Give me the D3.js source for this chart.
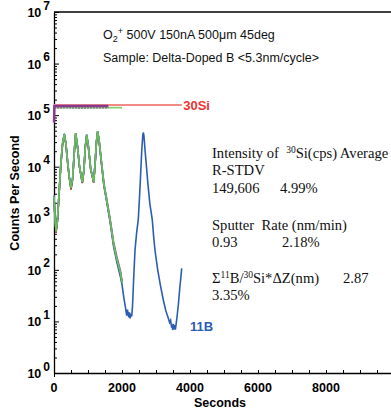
<!DOCTYPE html>
<html>
<head>
<meta charset="utf-8">
<script src="https://cdn.jsdelivr.net/npm/d3@7"></script>
<style>
  body { margin: 0; background: #fff; }
  svg { display: block; font-family: "Liberation Sans", Arial, sans-serif; }
  .note { font-family: "Liberation Serif", "Times New Roman", serif; font-size: 14.6px; fill: #111; }
</style>
</head>
<body>
<div id="chart"></div>
<script>
// depth profile, log counts vs sputter time
const xTicks = [0, 2000, 4000, 6000, 8000];
const yExps = [0, 1, 2, 3, 4, 5, 6, 7];

// 30Si reference channels (seconds, cps)
const si30Salmon = [[0, 1.58e5], [3760, 1.58e5]];
const si30Green = [[0, 1.40e5], [2000, 1.40e5]];
const si30Gray = [[0, 1.38e5], [400, 1.40e5], [800, 1.37e5], [1200, 1.39e5], [1600, 1.38e5]];
const si30Purple = [[0, 7.2e4], [10, 1.50e5], [1600, 1.50e5]];

// 11B cycles - shared time base for the overlaid runs
const bTime = [0, 30, 60, 100, 150, 200, 250, 303, 350, 400, 450, 500, 550, 600, 638, 690, 750, 832,
  880, 920, 962, 1010, 1080, 1168, 1210, 1250, 1285, 1330, 1400, 1470, 1550, 1650, 1750, 1850, 1950, 2000];
const bMagenta = [2800, 1000, 560, 900, 3100, 11000, 27000, 42000, 28000, 12500, 6200, 3800, 6000, 21000,
  44000, 25000, 10000, 4900, 8500, 24000, 41000, 25000, 9000, 5000, 12000, 31000, 48000, 31000, 11500,
  4700, 2400, 1000, 360, 180, 100, 62];
const bMaroon = [2500, 950, 520, 850, 2900, 10500, 26000, 41000, 27000, 12000, 6000, 3600, 5800, 20000,
  43000, 24500, 9800, 4800, 8200, 23500, 40000, 24500, 8800, 4900, 11500, 30000, 47000, 30000, 11000,
  4300, 2200, 900, 320, 160, 90, 58];
const bTeal = [2700, 1000, 570, 920, 3200, 11500, 28000, 43000, 28500, 12800, 6300, 3900, 6200, 21500,
  45000, 25500, 10200, 5000, 8700, 24500, 42000, 25500, 9200, 5100, 12300, 31500, 49000, 31500, 11700,
  4600, 2300, 930, 330, 165, 92, 58];
const bGreen = [2600, 980, 550, 900, 3100, 11200, 27500, 42500, 28000, 12500, 6200, 3850, 6100, 21000,
  44500, 25000, 10000, 5000, 8600, 24000, 41500, 25000, 9000, 5000, 12100, 31000, 48500, 31000, 11400,
  4400, 2250, 920, 325, 160, 90, 57];

// blue run goes on for two more cycles
const bBlue = [[0, 2600], [30, 1000], [60, 560], [100, 900], [150, 3100], [200, 11000], [250, 27500],
  [303, 44000], [350, 28000], [400, 12500], [450, 6200], [500, 3900], [550, 6100], [600, 21500],
  [638, 45000], [690, 25000], [750, 10000], [832, 5000], [880, 8600], [920, 24500], [962, 42000],
  [1010, 25000], [1080, 9000], [1168, 5000], [1210, 12000], [1250, 31500], [1285, 49000], [1330, 30500],
  [1400, 11000], [1470, 4200], [1550, 2100], [1650, 850], [1750, 290], [1850, 140], [1950, 75],
  [2000, 52], [2050, 30], [2100, 19], [2138, 13], [2160, 17], [2180, 14], [2200, 12], [2220, 15],
  [2240, 11.5], [2260, 14], [2285, 12.5], [2310, 20], [2340, 60], [2382, 240], [2430, 520], [2479, 950],
  [2530, 4000], [2580, 20000], [2610, 40000], [2626, 46000], [2645, 40000], [2680, 20000], [2720, 10000],
  [2760, 4800], [2820, 1900], [2891, 930], [2930, 450], [2970, 240], [3050, 100], [3130, 50],
  [3215, 26], [3290, 16], [3362, 11.5], [3400, 9.5], [3430, 10.5], [3460, 7.6], [3480, 8.8],
  [3491, 6.8], [3510, 9], [3530, 7], [3550, 8.5], [3570, 6.9], [3588, 8.5], [3620, 12.5], [3660, 22],
  [3700, 45], [3730, 70], [3756, 107]];

const W = 391, H = 415;
const margin = { top: 12, left: 54, bottom: 42 };

const svg = d3.select('#chart').append('svg').attr('width', W).attr('height', H);

const x = d3.scaleLinear().domain([0, 10000]).range([margin.left, 394]);
const y = d3.scaleLog().domain([1, 1e7]).range([H - margin.bottom, margin.top]);

// frame: top line + axes
svg.append('line').attr('x1', margin.left).attr('x2', W).attr('y1', y(1e7)).attr('y2', y(1e7))
  .attr('stroke', '#000').attr('stroke-width', 1.3);

const minorX = d3.range(0, 10001, 500);
const gx = svg.append('g').attr('transform', `translate(0,${y(1)})`)
  .call(d3.axisBottom(x).tickValues(minorX).tickSizeInner(-3).tickSizeOuter(0).tickFormat(''));
gx.select('.domain').attr('stroke-width', 1.3);
gx.selectAll('.tick line').attr('stroke-width', 1);
gx.selectAll('.tick').filter(d => d === 0).select('line').attr('y1', 4).attr('y2', -3);

svg.append('g').selectAll('text').data(xTicks).join('text')
  .attr('x', d => x(d)).attr('y', y(1) + 19)
  .attr('text-anchor', 'middle').attr('font-size', 12.5).attr('font-weight', 'bold')
  .text(d => d);

const yMinor = [];
yExps.slice(0, -1).forEach(e => { for (let k = 1; k < 10; k++) yMinor.push(k * Math.pow(10, e)); });
yMinor.push(1e7);
const gy = svg.append('g').attr('transform', `translate(${margin.left},0)`)
  .call(d3.axisLeft(y).tickValues(yMinor).tickSizeInner(-3).tickSizeOuter(0).tickFormat(''));
gy.select('.domain').attr('stroke-width', 1.3);
gy.selectAll('.tick line').attr('stroke-width', 1)
  .filter(d => Math.abs(Math.log10(d) % 1) < 1e-9).attr('x2', 5);

const yl = svg.append('g').selectAll('text').data(yExps).join('text')
  .attr('x', 50).attr('y', e => y(Math.pow(10, e)) + 5)
  .attr('text-anchor', 'end').attr('font-size', 12.5).attr('font-weight', 'bold');
yl.append('tspan').text('10');
yl.append('tspan').attr('dx', 2).attr('dy', -7.5).attr('font-size', 12).text(e => e);

svg.append('text').attr('transform', `translate(19,193) rotate(-90)`)
  .attr('text-anchor', 'middle').attr('font-size', 12.5).attr('font-weight', 'bold')
  .text('Counts Per Second');
svg.append('text').attr('x', 220).attr('y', 407)
  .attr('text-anchor', 'middle').attr('font-size', 12.5).attr('font-weight', 'bold')
  .text('Seconds');

// data lines
const line = d3.line().x(d => x(d[0])).y(d => y(d[1]));
const plot = svg.append('g');

plot.append('path').attr('d', line(si30Salmon)).attr('fill', 'none').attr('stroke', '#f48a88').attr('stroke-width', 2);
plot.append('path').attr('d', line(si30Green)).attr('fill', 'none').attr('stroke', '#86d070').attr('stroke-width', 1.8);
plot.append('path').attr('d', line(si30Gray)).attr('fill', 'none').attr('stroke', '#8a8a8a').attr('stroke-width', 1.8)
  .attr('stroke-dasharray', '2,1');
plot.append('path').attr('d', line(si30Purple)).attr('fill', 'none').attr('stroke', '#8a3a8e').attr('stroke-width', 2.4);

plot.append('path').attr('d', line(bBlue)).attr('fill', 'none').attr('stroke', '#2c5cb4').attr('stroke-width', 1.6);
const runs = [
  { v: bMagenta, c: '#c060c8' },
  { v: bMaroon, c: '#8c2a3a' },
  { v: bTeal, c: '#3aa8a8' },
  { v: bGreen, c: '#6cbc58' },
];
runs.forEach(r => {
  plot.append('path').attr('d', line(bTime.map((t, i) => [t, r.v[i]])))
    .attr('fill', 'none').attr('stroke', r.c).attr('stroke-width', 1.6);
});

// series labels
svg.append('text').attr('x', x(3800)).attr('y', y(1.58e5) + 5)
  .attr('font-size', 13).attr('font-weight', 'bold').attr('fill', '#ee3333').text('30Si');
svg.append('text').attr('x', x(4000)).attr('y', y(8) + 5)
  .attr('font-size', 13).attr('font-weight', 'bold').attr('fill', '#2c5cb4').text('11B');

// header
const h1 = svg.append('text').attr('x', 103).attr('y', 39).attr('font-size', 12.5).attr('fill', '#111');
h1.append('tspan').text('O');
h1.append('tspan').attr('dy', 3).attr('font-size', 9).text('2');
h1.append('tspan').attr('dy', -8).attr('font-size', 9).text('+');
h1.append('tspan').attr('dy', 5).text(' 500V 150nA 500\u03bcm 45deg');
svg.append('text').attr('x', 103).attr('y', 62).attr('font-size', 12.5).attr('fill', '#111')
  .text('Sample: Delta-Doped B <5.3nm/cycle>');

// stats block
const notes = svg.append('g').attr('class', 'note');
const t1 = notes.append('text').attr('x', 212).attr('y', 158);
t1.append('tspan').text('Intensity of\u00a0\u00a0');
t1.append('tspan').attr('dy', -5).attr('font-size', 9.5).text('30');
t1.append('tspan').attr('dy', 5).text('Si(cps) Average');
notes.append('text').attr('x', 212).attr('y', 175).text('R-STDV');
notes.append('text').attr('x', 212).attr('y', 193).text('149,606');
notes.append('text').attr('x', 280).attr('y', 193).text('4.99%');
notes.append('text').attr('x', 212).attr('y', 230).text('Sputter\u00a0\u00a0Rate (nm/min)');
notes.append('text').attr('x', 212).attr('y', 247).text('0.93');
notes.append('text').attr('x', 282).attr('y', 247).text('2.18%');
const t2 = notes.append('text').attr('x', 212).attr('y', 283);
t2.append('tspan').text('\u03a3');
t2.append('tspan').attr('dy', -5).attr('font-size', 9.5).text('11');
t2.append('tspan').attr('dy', 5).text('B/');
t2.append('tspan').attr('dy', -5).attr('font-size', 9.5).text('30');
t2.append('tspan').attr('dy', 5).text('Si*\u0394Z(nm)');
notes.append('text').attr('x', 343).attr('y', 283).text('2.87');
notes.append('text').attr('x', 212).attr('y', 300).text('3.35%');
</script>
</body>
</html>
